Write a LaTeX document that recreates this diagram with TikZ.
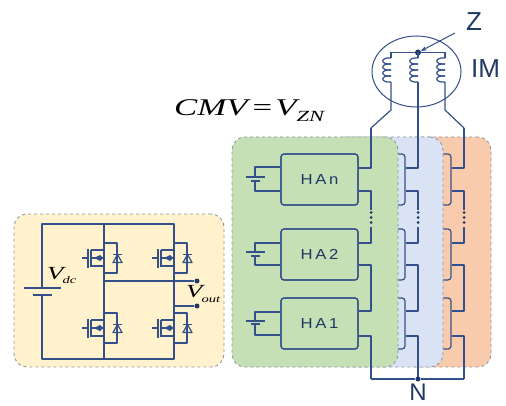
\documentclass[tikz,border=0pt]{standalone}
\usepackage{fontspec}
\setmainfont{Liberation Serif}
\setsansfont{Liberation Sans}
\newfontfamily\hafont[LetterSpace=18,FakeStretch=1.15]{Liberation Sans}
\newfontfamily\cmvfont[FakeStretch=1.45]{Liberation Serif}
\usetikzlibrary{positioning,arrows.meta,shapes.geometric}

\definecolor{wirecol}{HTML}{34508A}
\definecolor{navy}{HTML}{1F3864}
\definecolor{dashcol}{HTML}{8D95A3}
\definecolor{yellowbg}{HTML}{FFF2CC}
\definecolor{greenbg}{HTML}{C5E0B4}
\definecolor{bluebg}{HTML}{DAE3F3}
\definecolor{orangebg}{HTML}{F8CBAD}

\newcommand{\voltsub}[1]{\hspace{-1pt}{\fontsize{10}{10}\selectfont\raisebox{-5pt}{#1}}}

\begin{document}
\begin{tikzpicture}[
  x=1pt, y=-1pt,
  wire/.style={draw=wirecol, line width=1.2pt, line join=round},
  panel/.style={draw=dashcol, dashed, line width=0.9pt, rounded corners=13pt, inner sep=0pt},
  habox/.style={draw=wirecol, line width=1.2pt, rounded corners=3pt, minimum width=77pt,
                minimum height=51pt, inner sep=0pt, text=navy,
                font=\hafont\fontsize{14.5}{14.5}\selectfont},
  dotnode/.style={circle, fill=navy, inner sep=0pt, minimum size=5pt},
  bigtext/.style={text=navy, font=\sffamily\fontsize{26}{26}\selectfont, inner sep=0pt},
  volt/.style={font=\cmvfont\itshape\fontsize{18.5}{18.5}\selectfont, inner sep=0pt, anchor=base west},
]
  \useasboundingbox (0,0) rectangle (506,406);

  % inverter cell
  \node[panel, fill=yellowbg, minimum width=210pt, minimum height=153pt] (cell) at (119,290.5) {};
  \coordinate (tl) at (42,224);
  \coordinate (tm) at (104,224);
  \coordinate (tr) at (174,224);
  \coordinate (bl) at (42,359);
  \coordinate (bm) at (104,359);
  \coordinate (br) at (174,359);
  \coordinate (ptop) at (42,288);
  \coordinate (pbot) at (42,295);
  \coordinate (mid) at (104,281);
  \coordinate (rgt) at (174,306);
  \node[dotnode] (outa) at (197,281) {};
  \node[dotnode] (outb) at (197,306) {};
  \draw[wire] (ptop) -- (tl) -- (tr) -- (br) -- (bl) -- (pbot);
  \draw[wire] (tm) -- (bm);
  \draw[wire] (mid) -- (outa);
  \draw[wire] (rgt) -- (outb);
  \draw[wire] (24,288) -- (61,288);
  \draw[wire] (33,295) -- (52,295);

  \foreach \fx/\fy in {0/0, 70/0, 0/70, 70/70} {
    \begin{scope}[shift={(\fx,\fy)}]
      \draw[wire] (104,243) -- (117,243) -- (117,273) -- (104,273);
      \draw[wire] (113,254.5) -- (122,254.5);
      \draw[wire] (117.5,254.5) -- (113,262.5) -- (122,262.5) -- cycle;
      \draw[wire] (82,258) -- (88,258);
      \draw[wire] (88,249) -- (88,268);
      \draw[wire] (91,250) -- (91,267);
      \draw[wire] (91,250) -- (104,250);
      \draw[wire] (91,266) -- (104,266);
      \draw[wire] (91,258) -- (104,258);
      \fill[wirecol] (94,258) -- (100,255) -- (103,258) -- (100,261) -- cycle;
    \end{scope}
  }

  \node[volt] (vdc) at (47,279) {V\voltsub{dc}};
  \node[volt] (vout) at (186,297) {V\voltsub{out}};

  % three phases
  \foreach \col/\pcx/\pw/\pfill in {93/445.5/91/orangebg, 47/386.5/113/bluebg, 0/315/166/greenbg} {
    \node[panel, fill=\pfill, minimum width=\pw pt, minimum height=230pt] (pan\col) at (\pcx,252) {};
    \begin{scope}[xshift=\col pt]
      \node[habox] (hn\col) at (319.5,179.5) {};
      \node[habox] (hb\col) at (319.5,254.5) {};
      \node[habox] (ha\col) at (319.5,323.5) {};
      \coordinate (top\col) at (371,128);
      \coordinate (bot\col) at (371,379);
      \draw[wire] (top\col) -- (371,168) -- (hn\col.east |- 0,168);
      \draw[wire] (hn\col.east |- 0,191) -- (371,191) -- (371,210);
      \draw[wire] (371,227) -- (371,243) -- (hb\col.east |- 0,243);
      \draw[wire] (hb\col.east |- 0,265) -- (371,265) -- (371,311) -- (ha\col.east |- 0,311);
      \draw[wire] (ha\col.east |- 0,336) -- (371,336) -- (bot\col);
      \foreach \dy in {212.5,217.5,222.5}
        \fill[navy] (371,\dy) circle (1.5);
    \end{scope}
  }

  \node[habox] (han) at (319.5,179.5) {HAn};
  \node[habox] (hab) at (319.5,254.5) {HA2};
  \node[habox] (haa) at (319.5,323.5) {HA1};

  % dc sources
  \foreach \bx/\up/\lo/\pa/\pb in {han/167/191/177/181, hab/243/265/252/256, haa/312/335/321/324} {
    \draw[wire] (\bx.west |- 0,\up) -- (255,\up) -- (255,\pa);
    \draw[wire] (\bx.west |- 0,\lo) -- (255,\lo) -- (255,\pb);
    \draw[wire] (246,\pa) -- (265,\pa);
    \draw[wire] (251,\pb) -- (260,\pb);
  }

  % star point
  \node[dotnode] (nstar) at (418,379) {};
  \draw[wire] (bot0) -- (nstar) -- (bot93);
  \node[bigtext, font=\sffamily\fontsize{24}{24}\selectfont] (nlab) at (418,392.5) {N};

  % motor
  \node[ellipse, draw=wirecol, line width=1pt, minimum width=89pt, minimum height=71pt,
        inner sep=0pt] (motor) at (416.5,71.5) {};
  \node[dotnode, minimum size=6pt] (zdot) at (418,52.5) {};
  \coordinate (cl) at (391,52.5);
  \coordinate (cr) at (445,52.5);
  \draw[wire] (cl) -- (zdot) -- (cr);
  \foreach \cx/\tp in {391/top0, 418/top47, 445/top93} {
    \foreach \cy in {58,64,70,76}
      \draw[wire] (\cx,\cy) .. controls (\cx-11,\cy-1) and (\cx-11,\cy+7) .. (\cx,\cy+6);
    \draw[wire] (\cx,52.5) -- (\cx,58);
    \draw[wire] (\tp) -- (\cx,110) -- (\cx,82);
  }

  \node[bigtext] (zlab) at (474,21.5) {Z};
  \node[bigtext] (imlab) at (485.5,68.5) {IM};
  \coordinate (ztail) at (455,33);
  \draw[wirecol, line width=1pt, -{Stealth[length=6pt]}] (ztail) -- (zdot);

  \node[font=\cmvfont\itshape\fontsize{24}{24}\selectfont, inner sep=0pt, anchor=base west] (cmv) at (174,116)
    {CMV\hspace{5pt}{\upshape=}\hspace{3pt}V{\fontsize{15.5}{15.5}\selectfont\raisebox{-6pt}{ZN}}};
\end{tikzpicture}
\end{document}
